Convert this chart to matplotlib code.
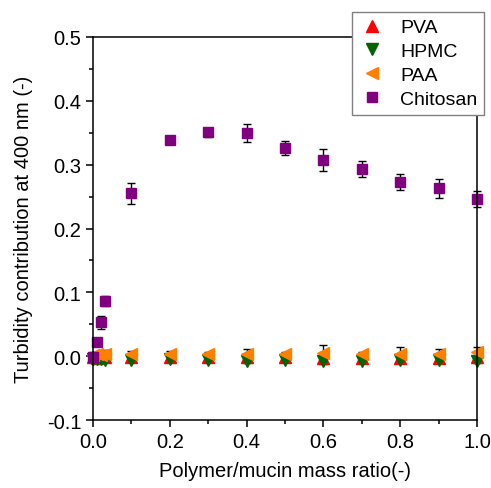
import numpy as np
import matplotlib.pyplot as plt
from matplotlib.ticker import MultipleLocator

plt.rcParams['font.family'] = ['Liberation Sans', 'DejaVu Sans']
plt.rcParams['axes.unicode_minus'] = False

# Polymer/mucin mass ratios
ratio = [0.0, 0.01, 0.02, 0.03, 0.1, 0.2, 0.3, 0.4, 0.5, 0.6, 0.7, 0.8, 0.9, 1.0]

# Turbidity contribution at 400 nm and standard deviations
pva = [-0.002, -0.003, -0.002, -0.002, -0.002, -0.002, -0.001, -0.002, -0.002, -0.003, -0.003, -0.003, -0.003, -0.002]
pva_err = [0.003, 0.003, 0.003, 0.003, 0.003, 0.003, 0.003, 0.004, 0.003, 0.004, 0.003, 0.004, 0.004, 0.003]
hpmc = [-0.004, -0.005, -0.005, -0.006, -0.006, -0.005, -0.006, -0.007, -0.006, -0.007, -0.007, -0.006, -0.006, -0.007]
hpmc_err = [0.003, 0.003, 0.003, 0.003, 0.003, 0.003, 0.003, 0.004, 0.003, 0.005, 0.003, 0.004, 0.004, 0.004]
paa = [0.002, 0.003, 0.002, 0.003, 0.004, 0.004, 0.003, 0.004, 0.003, 0.005, 0.003, 0.004, 0.004, 0.006]
paa_err = [0.004, 0.004, 0.004, 0.006, 0.004, 0.004, 0.004, 0.007, 0.004, 0.012, 0.004, 0.010, 0.008, 0.008]
chitosan = [-0.002, 0.022, 0.053, 0.086, 0.255, 0.339, 0.351, 0.349, 0.326, 0.307, 0.293, 0.273, 0.263, 0.246]
chitosan_err = [0.003, 0.004, 0.010, 0.008, 0.017, 0.003, 0.007, 0.014, 0.011, 0.017, 0.013, 0.012, 0.015, 0.012]

fig = plt.figure(figsize=(4.91, 4.89), dpi=100)
ax = fig.add_axes([0.1894, 0.139, 0.7821, 0.7833])

series = [
    (pva, pva_err, '^', '#ff0000', 'PVA', 9),
    (hpmc, hpmc_err, 'v', '#006400', 'HPMC', 9),
    (paa, paa_err, '<', '#ff8000', 'PAA', 9),
    (chitosan, chitosan_err, 's', '#800080', 'Chitosan', 7.5),
]
for y, err, m, c, lab, ms in series:
    ax.errorbar(ratio, y, yerr=err, fmt=m, color=c, ms=ms, mec=c,
                ecolor='black', elinewidth=1, capsize=3, capthick=1,
                label=lab, clip_on=False)

ax.set_xlim(0, 1.0)
ax.set_ylim(-0.1, 0.5)
ax.xaxis.set_major_locator(MultipleLocator(0.2))
ax.xaxis.set_minor_locator(MultipleLocator(0.1))
ax.yaxis.set_major_locator(MultipleLocator(0.1))
ax.yaxis.set_minor_locator(MultipleLocator(0.05))
ax.tick_params(which='both', direction='out', width=1.1, labelsize=14.5)
ax.tick_params(which='major', length=5)
ax.tick_params(which='minor', length=3)
for s in ax.spines.values():
    s.set_linewidth(1.1)

ax.set_xlabel('Polymer/mucin mass ratio(-)', fontsize=14.5, labelpad=7)
ax.set_ylabel('Turbidity contribution at 400 nm (-)', fontsize=14.5, labelpad=10)

# Legend keeps only the markers, not the error bars
handles, labels = ax.get_legend_handles_labels()
handles = [h[0] for h in handles]
leg = ax.legend(handles, labels, loc='upper right', bbox_to_anchor=(0.9857, 0.9734),
                bbox_transform=fig.transFigure, borderaxespad=0, fontsize=14,
                fancybox=False, edgecolor='gray', framealpha=1, handletextpad=0.8,
                labelspacing=0.32, handlelength=1.3, borderpad=0.35)
leg.get_frame().set_linewidth(1)

fig.savefig('out.png', dpi=100)
